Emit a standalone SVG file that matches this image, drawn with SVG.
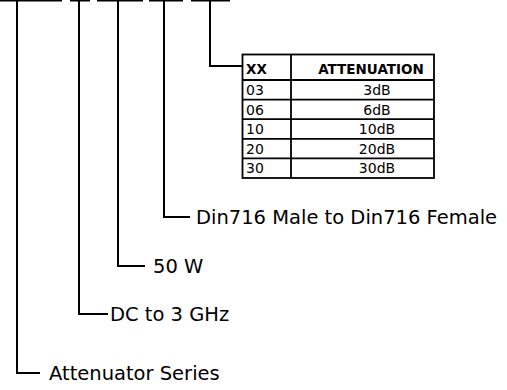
<svg xmlns="http://www.w3.org/2000/svg" width="507" height="390" viewBox="0 0 507 390">
<style>
.ln{fill:none;stroke:#000;stroke-width:2;stroke-linecap:butt}
.tb{fill:none;stroke:#000;stroke-width:1.8}
.lbl{font-family:"DejaVu Sans",Verdana,sans-serif;font-size:19.5px;fill:#000}
.cell{font-family:"DejaVu Sans",Verdana,sans-serif;font-size:14px;fill:#000}
.hd{font-weight:bold;font-size:13.5px}
</style>
<rect width="507" height="390" fill="#fff"/>
<g id="connectors">
<path class="ln" d="M0 0.5H62 M70 0.5H90 M97 0.5H143 M149 0.5H183 M191 0.5H230"/>
<path class="ln" d="M17 0V373H40"/>
<path class="ln" d="M79 0V314H108"/>
<path class="ln" d="M118 0V266H145"/>
<path class="ln" d="M164 0V217H190"/>
<path class="ln" d="M210 0V66H242"/>
</g>
<g id="table">
<rect class="tb" x="242.5" y="54.5" width="191.5" height="123.5"/>
<path class="tb" d="M291 54.5V178 M242.5 80H434 M242.5 99.6H434 M242.5 119.2H434 M242.5 138.8H434 M242.5 158.4H434"/>
<text class="cell hd" x="246" y="74">XX</text>
<text class="cell hd" x="371" y="74" text-anchor="middle">ATTENUATION</text>
<text class="cell" x="246" y="95">03</text>
<text class="cell" x="377" y="95" text-anchor="middle">3dB</text>
<text class="cell" x="246" y="114.6">06</text>
<text class="cell" x="377" y="114.6" text-anchor="middle">6dB</text>
<text class="cell" x="246" y="134.2">10</text>
<text class="cell" x="377" y="134.2" text-anchor="middle">10dB</text>
<text class="cell" x="246" y="153.8">20</text>
<text class="cell" x="377" y="153.8" text-anchor="middle">20dB</text>
<text class="cell" x="246" y="173.4">30</text>
<text class="cell" x="377" y="173.4" text-anchor="middle">30dB</text>
</g>
<g id="connector-label"><text class="lbl" x="196" y="224">Din716 Male to Din716 Female</text></g>
<g id="power-label"><text class="lbl" x="153" y="273">50 W</text></g>
<g id="freq-label"><text class="lbl" x="110" y="321">DC to 3 GHz</text></g>
<g id="series-label"><text class="lbl" x="49" y="380">Attenuator Series</text></g>
</svg>
